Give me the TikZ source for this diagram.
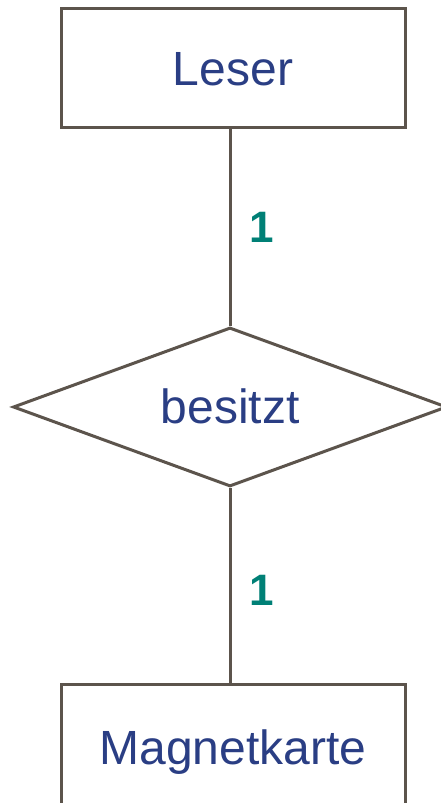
\documentclass[tikz,border=0pt]{standalone}
\usepackage{fontspec}
\setmainfont{Liberation Sans}
\usetikzlibrary{shapes.geometric}
\definecolor{edgegray}{RGB}{92,84,76}
\definecolor{textblue}{RGB}{42,62,132}
\definecolor{cardteal}{RGB}{0,128,118}
\begin{document}
\begin{tikzpicture}[x=1pt,y=1pt,
  entity/.style={draw=edgegray,line width=3pt,fill=white,minimum width=344pt,minimum height=119pt,inner sep=0pt,
    font=\fontsize{48}{58}\selectfont,text=textblue,text height=34pt,text depth=0pt},
  relation/.style={diamond,draw=edgegray,line width=3pt,fill=white,minimum width=434pt,minimum height=159pt,inner sep=0pt},
  rtext/.style={inner sep=0pt,font=\fontsize{48}{58}\selectfont,text=textblue,text height=34pt,text depth=0pt},
  conn/.style={draw=edgegray,line width=3pt},
  card/.style={font=\bfseries\fontsize{44}{52}\selectfont,text=cardteal,text height=32pt,text depth=0pt,inner sep=0pt}]
\useasboundingbox (0,0) rectangle (441,803);
\clip (0,0) rectangle (441,803);
\node[entity] (leser) at (233,734.5) {Leser};
\node[relation] (besitzt) at (230,396) {};
\node[rtext] (besitzttext) at (besitzt.center) {besitzt};
\node[entity,minimum height=126pt] (karte) at (233,55) {Magnetkarte};
\draw[conn] (leser.south -| besitzt.north) -- (besitzt.north);
\draw[conn] (besitzt.south) -- (karte.north -| besitzt.south);
\node[card] (c1) at (262,576) {1};
\node[card] (c2) at (262,213) {1};
\end{tikzpicture}
\end{document}
